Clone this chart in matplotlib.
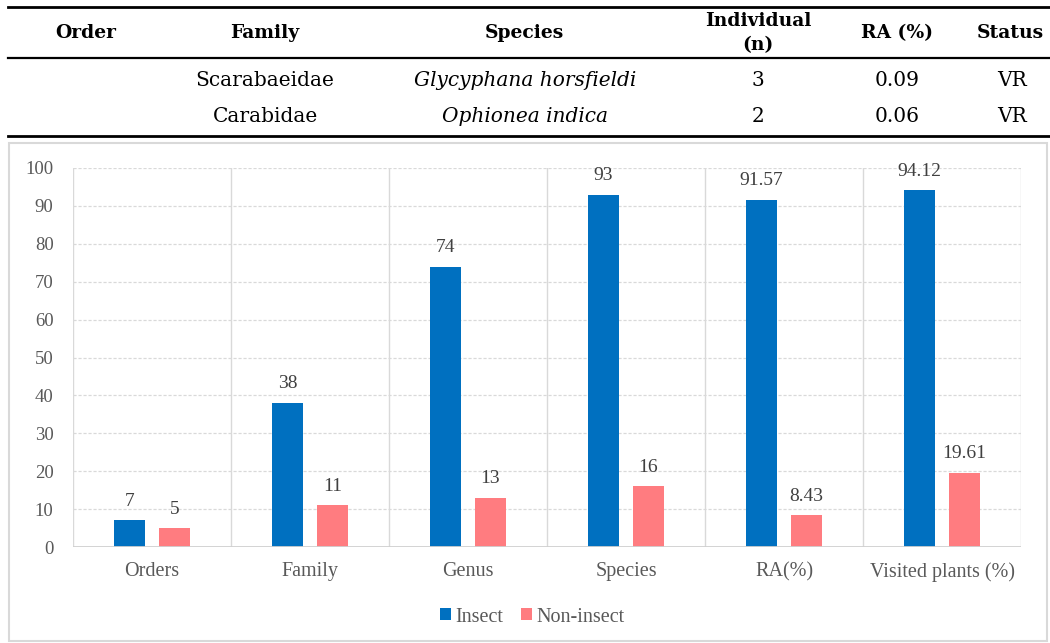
import matplotlib
matplotlib.use("Agg")
import matplotlib.pyplot as plt
from matplotlib.lines import Line2D
from matplotlib.patches import Rectangle, Patch
import numpy as np

# ---- data ----
table_header = ["Order", "Family", "Species", "Individual\n(n)", "RA (%)", "Status"]
row_family = ["Scarabaeidae", "Carabidae"]
row_species = ["Glycyphana horsfieldi", "Ophionea indica"]
row_individual = ["3", "2"]
row_ra = ["0.09", "0.06"]
row_status = ["VR", "VR"]

categories = ["Orders", "Family", "Genus", "Species", "RA(%)", "Visited plants (%)"]
insect = [7, 38, 74, 93, 91.57, 94.12]
non_insect = [5, 11, 13, 16, 8.43, 19.61]
insect_labels = ["7", "38", "74", "93", "91.57", "94.12"]
non_insect_labels = ["5", "11", "13", "16", "8.43", "19.61"]
yticks = [0, 10, 20, 30, 40, 50, 60, 70, 80, 90, 100]

W, H = 1050, 643
fig = plt.figure(figsize=(W / 100, H / 100), dpi=100)

def fx(px):
    return px / W

def fy(py):
    return 1 - py / H

# ---- table ----
for y, lw in [(7, 2.0), (58, 1.6), (136, 2.0)]:
    fig.add_artist(Line2D([fx(8), 1.0], [fy(y), fy(y)], color="black", lw=lw,
                          transform=fig.transFigure))

col_x = [86, 265, 524, 758, 897, 1010]
tfont = "DejaVu Serif"
for i, (cx, txt) in enumerate(zip(col_x, table_header)):
    fig.text(fx(cx), fy(33), txt, ha="center", va="center", family=tfont,
             fontweight="bold", fontsize=13.5, linespacing=1.45)

row_y = [81, 116]
dsize = 14.5
for r in range(2):
    yy = fy(row_y[r])
    fig.text(fx(265), yy, row_family[r], ha="center", va="center", family=tfont, fontsize=dsize)
    fig.text(fx(525), yy, row_species[r], ha="center", va="center", family=tfont,
             fontsize=dsize, style="italic")
    fig.text(fx(758), yy, row_individual[r], ha="center", va="center", family=tfont, fontsize=dsize)
    fig.text(fx(897), yy, row_ra[r], ha="center", va="center", family=tfont, fontsize=dsize)
    fig.text(fx(1012), yy, row_status[r], ha="center", va="center", family=tfont, fontsize=dsize)

# ---- chart border ----
fig.add_artist(Rectangle((fx(9), fy(641)), (1047 - 9) / W, (641 - 143) / H,
                         transform=fig.transFigure, fill=False, edgecolor="#d9d9d9", lw=1.5))

# ---- chart ----
ax = fig.add_axes([fx(73), fy(547), (1021 - 73) / W, (547 - 168) / H])
x = np.arange(len(categories))
blue = "#0070C0"
pink = "#FF7C80"
off = 0.142
bw = 0.2
ax.bar(x - off, insect, width=bw, color=blue, zorder=3)
ax.bar(x + off, non_insect, width=bw, color=pink, zorder=3)

sfont = "Liberation Serif"
for xi, v, lab in zip(x - off, insect, insect_labels):
    ax.annotate(lab, (xi, v), xytext=(0, 13.7), textcoords="offset points",
                ha="center", va="center", family=sfont, fontsize=14, color="#404040")
for xi, v, lab in zip(x + off, non_insect, non_insect_labels):
    ax.annotate(lab, (xi, v), xytext=(0, 13.7), textcoords="offset points",
                ha="center", va="center", family=sfont, fontsize=14, color="#404040")

ax.set_xlim(-0.5, len(categories) - 0.5)
ax.set_ylim(0, 100)
ax.set_yticks(yticks)
ax.set_yticklabels([str(t) for t in yticks], family=sfont, fontsize=13.5, color="#595959")
ax.set_xticks(x)
ax.set_xticklabels(categories, family=sfont, fontsize=14.5, color="#595959")
ax.tick_params(axis="y", length=0, pad=14)
ax.tick_params(axis="x", length=0, pad=11)
for s in ax.spines.values():
    s.set_visible(False)

for t in yticks[1:]:
    ax.axhline(t, color="#d9d9d9", lw=0.9, ls=(0, (2.5, 1.5)), zorder=1)
ax.axhline(0, color="#d0d0d0", lw=1.3, zorder=4)
for b in np.arange(-0.5, len(categories), 1.0):
    ax.axvline(b, color="#d9d9d9", lw=1.0, zorder=1)

handles = [Patch(facecolor=blue, label="Insect"), Patch(facecolor=pink, label="Non-insect")]
fig.legend(handles=handles, loc="center", bbox_to_anchor=(fx(532), fy(617)), ncol=2,
           frameon=False, prop={"family": sfont, "size": 14.5}, labelcolor="#595959",
           handlelength=0.55, handleheight=0.55, handletextpad=0.2, columnspacing=0.9)

fig.savefig("out.png", dpi=100)
